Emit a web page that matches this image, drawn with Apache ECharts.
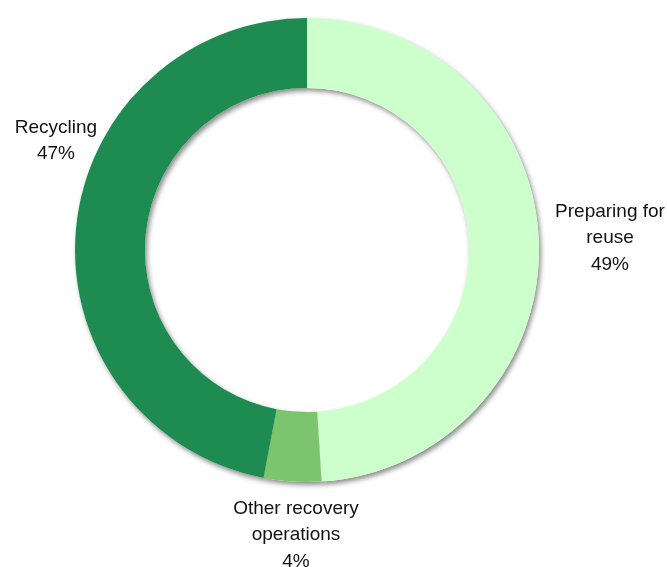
<!DOCTYPE html>
<html>
<head>
<meta charset="utf-8">
<style>
  html, body { margin: 0; padding: 0; background: #ffffff; }
  #chart { width: 667px; height: 567px; }
</style>
<script src="https://cdn.jsdelivr.net/npm/echarts@6/dist/echarts.min.js"></script>
</head>
<body>
<div id="chart"></div>
<script>
// Share of waste treatment by recovery route (per cent)
const categories = ['Preparing for\nreuse', 'Other recovery\noperations', 'Recycling'];
const shares = [49, 4, 47];
const sliceColors = ['#CCFFCC', '#7DC46F', '#1E8B50'];

// Label anchor offsets from the ring centre, in pixels
const labelOffsets = [[303, -12], [-11, 285], [-251, -109]];

const CX = 307, CY = 250;

const pieData = categories.map((name, i) => ({
  name: name,
  value: shares[i],
  itemStyle: { color: sliceColors[i] }
}));

const chart = echarts.init(document.getElementById('chart'), null, { renderer: 'canvas' });

chart.setOption({
  backgroundColor: '#ffffff',
  animation: false,
  series: [
    {
      // soft drop shadow beneath the ring
      type: 'pie',
      silent: true,
      z: 1,
      center: [CX, CY],
      radius: [162, 232],
      startAngle: 90,
      clockwise: true,
      label: { show: false },
      labelLine: { show: false },
      data: pieData.map(d => ({
        name: d.name,
        value: d.value,
        itemStyle: {
          color: '#ffffff',
          shadowColor: 'rgba(0,0,0,0.45)',
          shadowBlur: 5,
          shadowOffsetX: 2,
          shadowOffsetY: 3
        }
      }))
    },
    {
      type: 'pie',
      z: 2,
      center: [CX, CY],
      radius: [162, 232],
      startAngle: 90,
      clockwise: true,
      avoidLabelOverlap: false,
      itemStyle: { borderWidth: 0 },
      label: {
        show: true,
        position: 'outside',
        formatter: p => p.name + '\n' + p.value + '%',
        fontFamily: '"Liberation Sans", Arial, sans-serif',
        fontSize: 19,
        lineHeight: 26.5,
        color: '#111111'
      },
      labelLine: { show: false },
      labelLayout: params => {
        const off = labelOffsets[params.dataIndex];
        return {
          x: CX + off[0],
          y: CY + off[1],
          align: 'center',
          verticalAlign: 'middle'
        };
      },
      data: pieData
    }
  ]
});
</script>
</body>
</html>
